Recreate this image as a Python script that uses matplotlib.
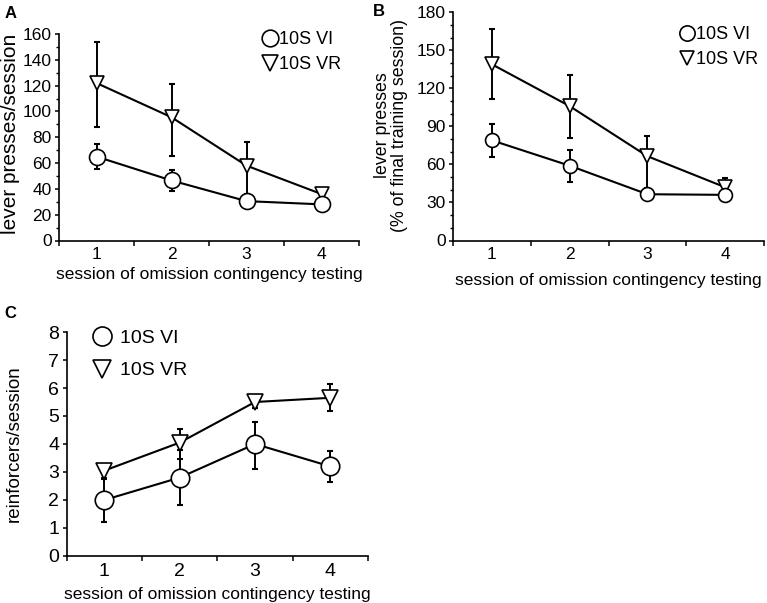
import matplotlib
matplotlib.use("Agg")
import matplotlib.pyplot as plt
from matplotlib.lines import Line2D
from matplotlib.ticker import MultipleLocator

plt.rcParams['font.family'] = ['Liberation Sans', 'DejaVu Sans']

# data
sessions = [1, 2, 3, 4]
series_names = ['10S VI', '10S VR']

# A : lever presses/session
a_vi = [65, 46.5, 30.5, 28]
a_vi_lo = [9.5, 8, 3, 3]
a_vi_hi = [9.5, 8, 3, 3]
a_vr = [122, 95.5, 58, 36]
a_vr_lo = [34, 30, 22, 3]
a_vr_hi = [32, 25.5, 18, 3.5]

# B : lever presses (% of final training session)
b_vi = [79, 59, 36.5, 36]
b_vi_lo = [13, 13, 3, 3]
b_vi_hi = [13, 12.5, 3, 3]
b_vr = [139, 106, 66.5, 42]
b_vr_lo = [27, 25.5, 25, 3]
b_vr_hi = [27.5, 24.5, 16, 7]

# C : reinforcers/session
c_vi = [2.0, 2.8, 4.0, 3.2]
c_vi_lo = [0.78, 0.98, 0.88, 0.56]
c_vi_hi = [0.78, 0.98, 0.8, 0.56]
c_vr = [3.05, 4.05, 5.5, 5.65]
c_vr_lo = [0.3, 0.6, 0.2, 0.47]
c_vr_hi = [0.2, 0.5, 0.2, 0.5]

xlab = "session of omission contingency testing"

fig = plt.figure(figsize=(7.67, 6.03), dpi=100)
W, H = 767., 603.

def box(l, r, t, b):
	return [l / W, (H - b) / H, (r - l) / W, (b - t) / H]

def panel(ax, vi, vi_lo, vi_hi, vr, vr_lo, vr_hi, ymax, ymaj, ymin, ms_o, ms_v, fs_tick):
	# error bars under the markers
	ax.errorbar(sessions, vr, yerr=[vr_lo, vr_hi], fmt='none', ecolor='black',
				elinewidth=1.4, capsize=2.1, capthick=1.5, zorder=1)
	ax.errorbar(sessions, vi, yerr=[vi_lo, vi_hi], fmt='none', ecolor='black',
				elinewidth=1.4, capsize=2.1, capthick=1.5, zorder=1)
	ax.plot(sessions, vr, '-v', color='black', lw=1.5, ms=ms_v, mfc='white', mec='black', mew=1.2, zorder=3)
	ax.plot(sessions, vi, '-o', color='black', lw=1.5, ms=ms_o, mfc='white', mec='black', mew=1.2, zorder=4)
	ax.set_xlim(0.5, 4.5)
	ax.set_ylim(0, ymax)
	ax.set_xticks([0.5, 1.5, 2.5, 3.5, 4.5])
	ax.set_xticklabels([])
	ax.set_xticks(sessions, minor=True)
	ax.set_xticklabels([str(s) for s in sessions], minor=True)
	ax.tick_params(axis='x', which='major', direction='out', length=3.5, width=1.1)
	ax.tick_params(axis='x', which='minor', length=0, pad=5, labelsize=fs_tick)
	ax.yaxis.set_major_locator(MultipleLocator(ymaj))
	if ymin:
		ax.yaxis.set_minor_locator(MultipleLocator(ymin))
	ax.tick_params(axis='y', which='major', direction='out', length=2.8, width=1.1, pad=2.5, labelsize=fs_tick)
	ax.tick_params(axis='y', which='minor', direction='out', length=2.5, width=1.0)
	for s in ['top', 'right']:
		ax.spines[s].set_visible(False)
	for s in ['left', 'bottom']:
		ax.spines[s].set_linewidth(1.2)

def legend(ax, ms_o, ms_v, fs, anchor, spacing, pad):
	h = [Line2D([], [], ls='none', marker='o', ms=ms_o, mfc='white', mec='black', mew=1.2),
		 Line2D([], [], ls='none', marker='v', ms=ms_v, mfc='white', mec='black', mew=1.2)]
	ax.legend(h, series_names, loc='upper left', bbox_to_anchor=anchor, bbox_transform=fig.transFigure,
			  frameon=False, fontsize=fs, handlelength=0.9, handletextpad=pad, labelspacing=spacing,
			  borderpad=0, borderaxespad=0)

# panel A
axA = fig.add_axes(box(59, 359, 34, 240.5))
panel(axA, a_vi, a_vi_lo, a_vi_hi, a_vr, a_vr_lo, a_vr_hi, 160, 20, 10, 11.5, 10.5, 12.5)
axA.set_ylabel("lever presses/session", fontsize=15)
axA.yaxis.set_label_coords(-0.13, 0.516)
axA.set_xlabel(xlab, fontsize=12.5, va='top')
axA.xaxis.set_label_coords(0.5, -0.128)
legend(axA, 12, 11, 13, (262 / W, 1 - 31 / H), 0.45, 0.05)

# panel B
axB = fig.add_axes(box(453, 764, 12.3, 240.5))
panel(axB, b_vi, b_vi_lo, b_vi_hi, b_vr, b_vr_lo, b_vr_hi, 180, 30, 10, 10, 9.7, 12.5)
axB.set_ylabel("lever presses\n(% of final training session)", fontsize=12.8, linespacing=1.0)
axB.yaxis.set_label_coords(-0.145, 0.506)
axB.set_xlabel(xlab, fontsize=12.5, va='top')
axB.xaxis.set_label_coords(0.5, -0.142)
legend(axB, 11, 10.5, 13, (679 / W, 1 - 26 / H), 0.45, 0.05)

# panel C
axC = fig.add_axes(box(66.7, 368, 332, 556))
panel(axC, c_vi, c_vi_lo, c_vi_hi, c_vr, c_vr_lo, c_vr_hi, 8, 1, None, 13.3, 12.2, 14)
axC.set_ylabel("reinforcers/session", fontsize=13.5)
axC.yaxis.set_label_coords(-0.145, 0.502)
axC.set_xlabel(xlab, fontsize=12.5, va='top')
axC.xaxis.set_label_coords(0.5, -0.138)
legend(axC, 13.7, 12.5, 14, (93 / W, 1 - 329 / H), 0.78, 0.5)

# panel letters
fig.text(5 / W, 1 - 6 / H, 'A', fontsize=12, weight='bold', va='top', ha='left')
fig.text(373 / W, 1 - 4 / H, 'B', fontsize=12, weight='bold', va='top', ha='left')
fig.text(4 / W, 1 - 306 / H, 'C', fontsize=12, weight='bold', va='top', ha='left')

fig.savefig("out.png", dpi=100)
